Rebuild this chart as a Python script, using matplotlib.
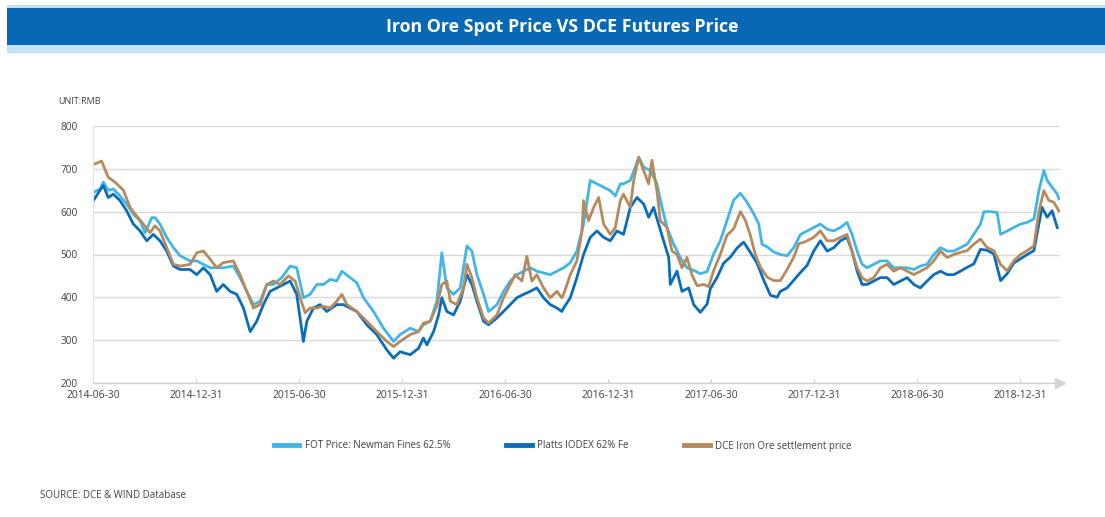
import matplotlib
matplotlib.use("Agg")
import matplotlib.pyplot as plt
from matplotlib.patches import Rectangle
from matplotlib.lines import Line2D

plt.rcParams['font.family'] = ['Open Sans', 'DejaVu Sans']

# ---------------- data (x = months since 2014-06-30) ----------------
tick_months = [0, 6, 12, 18, 24, 30, 36, 42, 48, 54]
tick_labels = ["2014-06-30", "2014-12-31", "2015-06-30", "2015-12-31", "2016-06-30",
               "2016-12-31", "2017-06-30", "2017-12-31", "2018-06-30", "2018-12-31"]
y_ticks = [200, 300, 400, 500, 600, 700, 800]

fot_m = [0.02, 0.41, 0.60, 0.89, 1.18, 1.57, 1.96, 2.35, 2.74, 3.03, 3.42, 3.61, 3.90, 4.29, 4.68,
         5.07, 5.65, 6.04, 6.43, 6.82, 7.59, 8.17, 8.56, 8.95, 9.34, 9.73, 10.12, 10.50, 10.99,
         11.48, 11.86, 12.25, 12.64, 13.03, 13.42, 13.81, 14.19, 14.49, 14.97, 15.36, 15.75,
         16.33, 16.91, 17.50, 17.88, 18.47, 18.95, 19.24, 19.63, 20.02, 20.31, 20.60, 20.99,
         21.38, 21.77, 22.06, 22.35, 22.74, 23.03, 23.52, 23.90, 24.29, 24.68, 25.07, 25.46,
         25.84, 26.23, 26.62, 27.01, 27.40, 27.79, 28.17, 28.56, 28.95, 29.34, 29.73, 30.12,
         30.41, 30.70, 30.89, 31.28, 31.57, 31.77, 32.06, 32.45, 32.83, 33.13, 33.42, 33.81,
         34.19, 34.58, 34.97, 35.36, 35.75, 36.14, 36.52, 36.91, 37.30, 37.69, 38.08, 38.47,
         38.76, 38.95, 39.25, 39.63, 40.02, 40.41, 40.80, 41.19, 41.58, 41.96, 42.35, 42.74,
         43.13, 43.52, 43.90, 44.19, 44.49, 44.78, 45.07, 45.46, 45.84, 46.23, 46.62, 47.01,
         47.40, 47.79, 48.17, 48.56, 48.95, 49.34, 49.73, 50.12, 50.50, 50.89, 51.28, 51.67,
         51.87, 52.25, 52.64, 52.84, 53.22, 53.61, 54.00, 54.39, 54.78, 55.07, 55.36, 55.55,
         55.84, 56.14, 56.23]
fot_v = [645, 653, 669, 650, 653, 637, 618, 594, 579, 551, 586, 586, 571, 540, 516,
         497, 485, 485, 477, 469, 469, 473, 446, 414, 383, 391, 430, 430, 446,
         473, 469, 399, 407, 430, 430, 442, 438, 461, 446, 434, 399,
         367, 328, 297, 313, 328, 320, 336, 344, 391, 504, 422, 407,
         422, 520, 508, 453, 407, 367, 383, 414, 438, 453, 461, 469,
         461, 457, 453, 461, 469, 481, 508, 571, 673, 665, 657, 649,
         637, 665, 665, 673, 704, 727, 704, 696, 665, 610, 563, 524,
         493, 469, 463, 455, 460, 502, 532, 579, 627, 643, 622, 595,
         571, 524, 518, 506, 500, 497, 516, 547, 555, 563, 571, 559,
         555, 563, 575, 547, 508, 477, 469, 477, 485, 485, 469, 469,
         469, 465, 473, 477, 500, 516, 508, 508, 516, 524, 547, 571,
         600, 600, 598, 547, 555, 563, 571, 575, 583, 649, 696, 673,
         657, 641, 630]

platts_m = [0.02, 0.41, 0.60, 0.89, 1.18, 1.57, 1.96, 2.35, 2.74, 3.13, 3.51, 3.90, 4.29, 4.68,
            5.07, 5.65, 6.04, 6.43, 6.82, 7.20, 7.59, 7.98, 8.37, 8.76, 9.15, 9.53, 9.92, 10.31,
            10.70, 11.09, 11.48, 11.86, 12.25, 12.45, 12.83, 13.22, 13.61, 14.19, 14.58, 14.97,
            15.36, 15.94, 16.52, 17.11, 17.50, 17.88, 18.47, 18.95, 19.24, 19.44, 19.83, 20.12,
            20.31, 20.60, 20.99, 21.38, 21.77, 22.06, 22.35, 22.74, 23.03, 23.52, 23.90, 24.29,
            24.68, 25.07, 25.46, 25.84, 26.23, 26.62, 27.01, 27.30, 27.40, 27.79, 28.17, 28.56,
            28.95, 29.34, 29.73, 30.12, 30.50, 30.89, 31.28, 31.67, 32.06, 32.35, 32.64, 32.93,
            33.22, 33.52, 33.61, 34.00, 34.29, 34.68, 34.97, 35.36, 35.75, 35.94, 36.33, 36.72,
            37.11, 37.50, 37.88, 38.27, 38.66, 39.05, 39.44, 39.83, 40.02, 40.41, 40.80, 41.19,
            41.58, 41.96, 42.35, 42.74, 43.13, 43.52, 43.90, 44.19, 44.49, 44.78, 45.07, 45.46,
            45.84, 46.23, 46.62, 47.01, 47.40, 47.79, 48.17, 48.56, 48.95, 49.34, 49.73, 50.12,
            50.50, 50.89, 51.28, 51.67, 52.06, 52.45, 52.84, 53.22, 53.61, 54.00, 54.39, 54.78,
            55.07, 55.26, 55.55, 55.84, 56.14]
platts_v = [626, 650, 661, 633, 641, 626, 602, 571, 555, 532, 547, 532, 508, 473,
            465, 465, 453, 469, 453, 414, 430, 414, 407, 375, 320, 344, 383, 414,
            422, 430, 438, 407, 297, 344, 375, 383, 367, 383, 383, 375,
            367, 336, 313, 277, 258, 273, 266, 281, 305, 289, 320, 359,
            399, 367, 359, 391, 453, 430, 391, 344, 336, 352, 367, 383,
            399, 407, 414, 422, 399, 383, 375, 367, 375, 399, 446, 500,
            540, 555, 540, 532, 555, 547, 610, 633, 618, 587, 610, 571,
            532, 493, 430, 461, 414, 422, 383, 365, 384, 420, 446, 480,
            494, 515, 529, 505, 480, 440, 405, 400, 414, 422, 440, 458,
            475, 508, 532, 508, 516, 532, 540, 508, 461, 430, 430, 438,
            446, 446, 430, 438, 446, 430, 422, 438, 453, 461, 453, 453,
            461, 470, 478, 512, 510, 501, 439, 455, 480, 490, 500, 509,
            571, 610, 587, 602, 563]

dce_m = [0.02, 0.50, 0.89, 1.28, 1.77, 2.16, 2.54, 2.93, 3.32, 3.61, 3.90, 4.29, 4.68, 5.07,
         5.65, 6.04, 6.43, 6.82, 7.20, 7.59, 8.17, 8.56, 8.95, 9.34, 9.73, 10.12, 10.50, 10.89,
         11.38, 11.77, 12.06, 12.35, 12.64, 13.03, 13.42, 13.81, 14.19, 14.49, 14.78, 15.36,
         15.94, 16.52, 17.11, 17.50, 17.88, 18.47, 18.95, 19.24, 19.63, 20.02, 20.31, 20.60,
         20.80, 21.18, 21.57, 21.77, 22.06, 22.35, 22.74, 23.03, 23.52, 23.90, 24.29, 24.58,
         24.97, 25.26, 25.55, 25.84, 26.23, 26.62, 27.01, 27.30, 27.40, 27.79, 28.17, 28.47,
         28.56, 28.85, 29.15, 29.44, 29.73, 30.12, 30.41, 30.70, 30.89, 31.28, 31.48, 31.77,
         32.06, 32.35, 32.54, 32.83, 33.03, 33.42, 33.71, 34.00, 34.29, 34.58, 34.87, 35.17,
         35.55, 35.84, 36.14, 36.52, 36.91, 37.30, 37.69, 37.98, 38.27, 38.56, 38.85, 39.25,
         39.64, 40.02, 40.41, 40.80, 41.09, 41.47, 41.96, 42.35, 42.74, 43.13, 43.52, 43.90,
         44.19, 44.49, 44.78, 45.07, 45.46, 45.84, 46.23, 46.62, 47.01, 47.40, 47.79, 48.17,
         48.56, 48.95, 49.34, 49.73, 50.12, 50.50, 50.89, 51.28, 51.67, 52.06, 52.45, 52.84,
         53.22, 53.61, 54.00, 54.39, 54.78, 55.07, 55.36, 55.65, 55.94, 56.23]
dce_v = [710, 718, 680, 669, 650, 610, 590, 571, 551, 567, 555, 516, 477, 473,
         477, 504, 508, 489, 469, 481, 485, 453, 414, 375, 383, 430, 438, 430,
         450, 438, 399, 364, 375, 375, 379, 375, 391, 407, 383, 367,
         344, 320, 297, 285, 297, 313, 320, 340, 344, 380, 430, 438,
         391, 383, 422, 477, 446, 399, 352, 340, 359, 399, 430, 453,
         438, 496, 438, 453, 422, 399, 414, 399, 407, 453, 485, 555,
         626, 579, 610, 633, 571, 547, 563, 626, 641, 610, 673, 727,
         696, 665, 720, 649, 579, 563, 508, 500, 469, 493, 453, 427,
         430, 425, 463, 500, 545, 560, 600, 580, 545, 500, 471, 447,
         439, 439, 465, 494, 525, 530, 540, 555, 532, 532, 540, 547,
         508, 469, 446, 438, 446, 469, 477, 461, 469, 461, 453, 461,
         469, 485, 508, 493, 500, 505, 509, 524, 536, 516, 509, 477,
         462, 485, 500, 509, 520, 600, 649, 626, 622, 602]

series_names = ["FOT Price: Newman Fines 62.5%", "Platts IODEX 62% Fe",
                "DCE Iron Ore settlement price"]
series_colors = ["#41B6E6", "#0B6DBA", "#B68A5C"]

# ---------------- figure ----------------
W, H = 1105, 517
fig = plt.figure(figsize=(W / 100, H / 100), dpi=100)
fig.patch.set_facecolor("white")

def px_rect(x0, y0, x1, y1, color):
    fig.patches.append(Rectangle((x0 / W, 1 - y1 / H), (x1 - x0) / W, (y1 - y0) / H,
                                 transform=fig.transFigure, facecolor=color,
                                 edgecolor="none", zorder=0))

px_rect(7, 5, W, 8, "#BFE2F6")
px_rect(7, 8, W, 45, "#0868B3")
px_rect(7, 45, W, 53, "#C3E4F8")
fig.text(562 / W, 1 - 27 / H, "Iron Ore Spot Price VS DCE Futures Price", color="white",
         fontsize=12.8, fontweight="bold", ha="center", va="center")

ax = fig.add_axes([93 / W, 134 / H, 967 / W, 257 / H])
ax.set_facecolor("white")

for mm, vv, nm, col in zip([fot_m, platts_m, dce_m], [fot_v, platts_v, dce_v],
                           series_names, series_colors):
    ax.plot(mm, vv, color=col, lw=2.0, label=nm, solid_joinstyle="round")

ax.set_xlim(0, 56.3)
ax.set_ylim(200, 800)
ax.set_yticks(y_ticks)
ax.set_xticks(tick_months)
ax.set_xticklabels(tick_labels)
ax.yaxis.grid(True, color="#D9D9D9", lw=1.0)
ax.set_axisbelow(True)
for s in ["top", "right"]:
    ax.spines[s].set_visible(False)
ax.spines["left"].set_color("#E3E3E3")
ax.spines["bottom"].set_color("#D0D0D0")
ax.spines["bottom"].set_linewidth(1.0)
ax.tick_params(axis="y", length=0, pad=11, labelsize=7.2, labelcolor="#404040")
ax.tick_params(axis="x", length=3, direction="in", color="#D0D0D0", pad=5,
               labelsize=7.4, labelcolor="#404040")
ax.plot([1.0], [0.0], marker=">", ms=7, color="#D5D5D5", transform=ax.transAxes,
        clip_on=False)

fig.text(58 / W, 1 - 101 / H, "UNIT:RMB", fontsize=6.5, color="#404040", va="center")
fig.text(40 / W, 1 - 496 / H, "SOURCE: DCE & WIND Database", fontsize=7, color="#404040",
         va="center")

handles = [Line2D([], [], color=c, lw=3.5) for c in series_colors]
fig.legend(handles, series_names, loc="center", bbox_to_anchor=(563 / W, 1 - 446 / H),
           ncol=3, frameon=False, fontsize=7, handlelength=2.6, handletextpad=0.6,
           columnspacing=5.7, labelcolor="#404040")

fig.savefig("out.png", dpi=100)
